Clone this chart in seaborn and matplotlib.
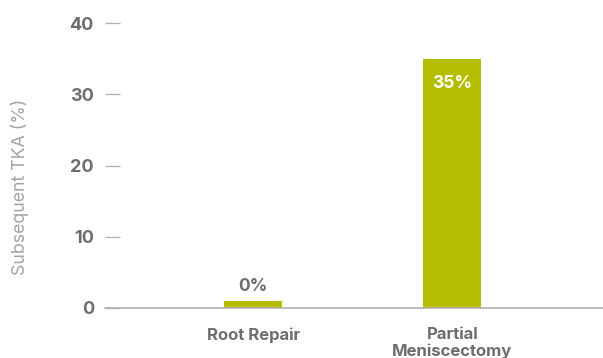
import matplotlib
matplotlib.use("Agg")
import matplotlib.pyplot as plt
import numpy as np
import pandas as pd
import seaborn as sns

# Data
categories = ["Root Repair", "Partial\nMeniscectomy"]
tka_pct = [0, 35]
y_ticks = [0, 10, 20, 30, 40]

BAR_COLOR = "#b5bd00"
TEXT_GRAY = "#6d6e71"
LABEL_GRAY = "#a2a4a7"
AXIS_GRAY = "#b0b0b0"
MIN_BAR = 1.0  # smallest drawn height so a zero bar stays visible

sns.set_theme(style="white")
plt.rcParams["font.family"] = ["Inter", "DejaVu Sans"]

df = pd.DataFrame({"group": categories, "value": tka_pct})
df["shown"] = np.maximum(df["value"], MIN_BAR)

fig = plt.figure(figsize=(6.03, 3.58), dpi=100)
ax = fig.add_axes([105 / 603, 50 / 358, 498 / 603, 285 / 358])

sns.barplot(data=df, x="group", y="shown", color=BAR_COLOR, width=0.29,
            saturation=1, ax=ax, linewidth=0)

ax.set_xlim(-0.745, 1.757)
ax.set_ylim(0, 40)
ax.set_yticks(y_ticks)
ax.set_yticklabels([str(t) for t in y_ticks], fontsize=13,
                   fontweight="bold", color=TEXT_GRAY)

for side in ["top", "right", "left"]:
    ax.spines[side].set_visible(False)
ax.spines["bottom"].set_color(AXIS_GRAY)
ax.spines["bottom"].set_linewidth(1.2)

ax.tick_params(axis="y", direction="in", length=10.5, width=0.9,
               color=AXIS_GRAY, pad=8, left=True)
ax.tick_params(axis="x", length=0, pad=14)
for lbl in ax.get_xticklabels():
    lbl.set_fontsize(12)
    lbl.set_fontweight("bold")
    lbl.set_color(TEXT_GRAY)
    lbl.set_verticalalignment("top")
    lbl.set_linespacing(1.05)

ax.set_xlabel("")
ax.set_ylabel("Subsequent TKA (%)", fontsize=12.8, color=LABEL_GRAY,
              fontweight="normal")
ax.yaxis.set_label_coords(-0.153, 0.425)

# Value labels: inside tall bars, above short ones
for i, (v, h) in enumerate(zip(df["value"], df["shown"])):
    txt = f"{v:.0f}%"
    if h > 10:
        ax.annotate(txt, (i, h), xytext=(0, -18), textcoords="offset points",
                    ha="center", va="center", fontsize=12.5,
                    fontweight="bold", color="white")
    else:
        ax.annotate(txt, (i, h), xytext=(0, 10.5), textcoords="offset points",
                    ha="center", va="center", fontsize=12.5,
                    fontweight="bold", color=TEXT_GRAY)

fig.savefig("out.png", dpi=100)
